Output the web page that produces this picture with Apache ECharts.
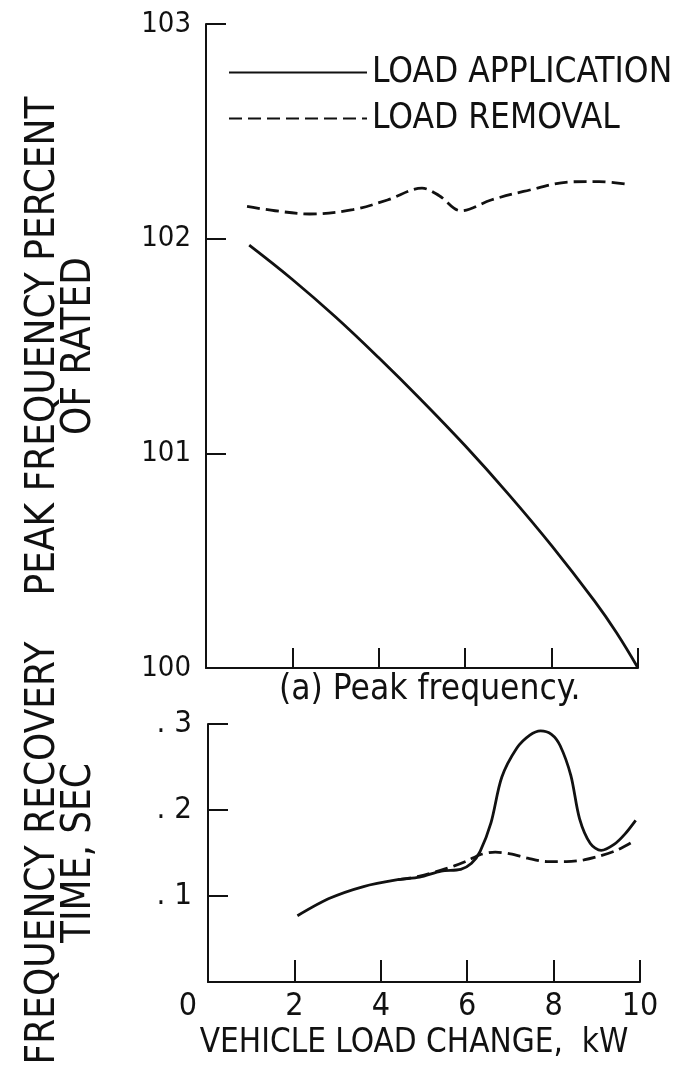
<!DOCTYPE html>
<html>
<head>
<meta charset="utf-8">
<script src="https://cdn.jsdelivr.net/npm/echarts@6/dist/echarts.min.js"></script>
<style>
  html, body { margin: 0; padding: 0; background: #fff; }
  #chart { width: 687px; height: 1073px; }
</style>
</head>
<body>
<div id="chart"></div>
<script>
// Peak frequency (percent of rated) vs vehicle load change, kW
const peakAppKW   = [1, 2, 3, 4, 5, 6, 7, 8, 9, 9.5, 10];
const peakAppPct  = [101.97, 101.81, 101.635, 101.445, 101.245, 101.035, 100.81, 100.57, 100.31, 100.165, 100.0];
const peakRemKW   = [0.95, 1.6, 2.4, 3.4, 4.2, 5.0, 5.4, 5.9, 6.6, 7.35, 8.5, 9.1, 9.75];
const peakRemPct  = [102.15, 102.13, 102.115, 102.135, 102.18, 102.235, 102.2, 102.13, 102.18, 102.22, 102.265, 102.266, 102.254];

// Frequency recovery time, sec vs vehicle load change, kW
const recAppKW    = [2.07, 2.8, 3.6, 4.4, 4.9, 5.4, 5.85, 6.1, 6.3, 6.55, 6.8, 7.15, 7.45, 7.7, 7.95, 8.15, 8.4, 8.6, 8.85, 9.1, 9.4, 9.65, 9.9];
const recAppSec   = [0.077, 0.097, 0.111, 0.119, 0.122, 0.129, 0.131, 0.138, 0.152, 0.185, 0.238, 0.272, 0.287, 0.292, 0.288, 0.275, 0.240, 0.190, 0.161, 0.153, 0.160, 0.172, 0.188];
const recRemKW    = [4.4, 4.9, 5.4, 5.7, 6.0, 6.3, 6.65, 7.0, 7.4, 7.85, 8.3, 8.7, 9.1, 9.5, 9.9];
const recRemSec   = [0.119, 0.123, 0.130, 0.135, 0.141, 0.148, 0.151, 0.149, 0.144, 0.140, 0.140, 0.142, 0.147, 0.154, 0.165];

const xTicks = [0, 2, 4, 6, 8, 10];
const seriesNames = ['LOAD APPLICATION', 'LOAD REMOVAL'];
const subCaption = '(a) Peak frequency.';
const yTitleTop = 'PEAK FREQUENCY PERCENT\nOF RATED';
const yTitleBottom = 'FREQUENCY RECOVERY\nTIME, SEC';
const xTitle = 'VEHICLE LOAD CHANGE,  kW';

const FONT = "'Liberation Sans Narrow', 'DejaVu Sans Condensed', 'Roboto Condensed', 'Liberation Sans', sans-serif";
const INK = '#111';
const CURVE_W = 2.8;
const DASH = [13, 6];

const pairs = (xs, ys) => xs.map((x, i) => [x, ys[i]]);

const axisLine = { show: true, lineStyle: { color: INK, width: 2 } };
const tickIn = (len) => ({ show: true, inside: true, length: len, lineStyle: { color: INK, width: 2 } });

const curve = (name, xi, data, dashed, smooth) => ({
  name, type: 'line', xAxisIndex: xi, yAxisIndex: xi,
  data, smooth, symbol: 'none', showSymbol: false,
  lineStyle: { color: INK, width: CURVE_W, type: dashed ? DASH : 'solid' },
  itemStyle: { color: INK }
});

const chart = echarts.init(document.getElementById('chart'), null, { renderer: 'canvas' });

chart.setOption({
  backgroundColor: '#fff',
  animation: false,
  textStyle: { fontFamily: FONT, color: INK },
  title: {
    text: subCaption,
    left: 274, top: 667,
    textStyle: { fontFamily: FONT, fontSize: 35, fontWeight: 'normal', color: INK }
  },
  legend: {
    data: seriesNames,
    orient: 'vertical',
    left: 223, top: 50,
    itemWidth: 138, itemHeight: 20, itemGap: 11,
    itemStyle: { opacity: 0 },
    textStyle: { fontFamily: FONT, fontSize: 35, color: INK }
  },
  grid: [
    { left: 206, top: 24, width: 432, height: 644 },
    { left: 208, top: 724, width: 432, height: 258 }
  ],
  xAxis: [
    {
      gridIndex: 0, type: 'value', min: 0, max: 10, interval: 2,
      axisLine, axisTick: tickIn(20), axisLabel: { show: false }, splitLine: { show: false }
    },
    {
      gridIndex: 1, type: 'value', min: 0, max: 10, interval: 2,
      axisLine, axisTick: tickIn(22), splitLine: { show: false },
      axisLabel: {
        fontFamily: FONT, fontSize: 32, color: INK, margin: 9,
        formatter: (v) => xTicks.includes(v) ? (v === 0 ? '{z|0}' : String(v)) : '',
        rich: { z: { fontFamily: FONT, fontSize: 32, color: INK, padding: [0, 40, 0, 0] } }
      },
      name: xTitle, nameLocation: 'middle', nameGap: 45,
      nameTextStyle: { fontFamily: FONT, fontSize: 33, color: INK, padding: [0, 20, 0, 0] }
    }
  ],
  yAxis: [
    {
      gridIndex: 0, type: 'value', min: 100, max: 103, interval: 1,
      axisLine, axisTick: tickIn(20), splitLine: { show: false },
      axisLabel: { fontFamily: FONT, fontSize: 29, color: INK, margin: 15 },
      name: yTitleTop, nameLocation: 'middle', nameGap: 108, nameRotate: 90,
      nameTextStyle: { fontFamily: FONT, fontSize: 40, lineHeight: 36, color: INK }
    },
    {
      gridIndex: 1, type: 'value', min: 0, max: 0.3, interval: 0.1,
      axisLine, axisTick: tickIn(20), splitLine: { show: false },
      axisLabel: {
        fontFamily: FONT, fontSize: 31, color: INK, margin: 16,
        formatter: (v) => v === 0 ? '' : '. ' + Math.round(v * 10)
      },
      name: yTitleBottom, nameLocation: 'middle', nameGap: 110, nameRotate: 90,
      nameTextStyle: { fontFamily: FONT, fontSize: 40, lineHeight: 36, color: INK }
    }
  ],
  series: [
    curve(seriesNames[0], 0, pairs(peakAppKW, peakAppPct), false, 0.4),
    curve(seriesNames[1], 0, pairs(peakRemKW, peakRemPct), true, 0.35),
    curve(seriesNames[0], 1, pairs(recAppKW, recAppSec), false, 0.3),
    curve(seriesNames[1], 1, pairs(recRemKW, recRemSec), true, 0.3)
  ]
});
</script>
</body>
</html>
